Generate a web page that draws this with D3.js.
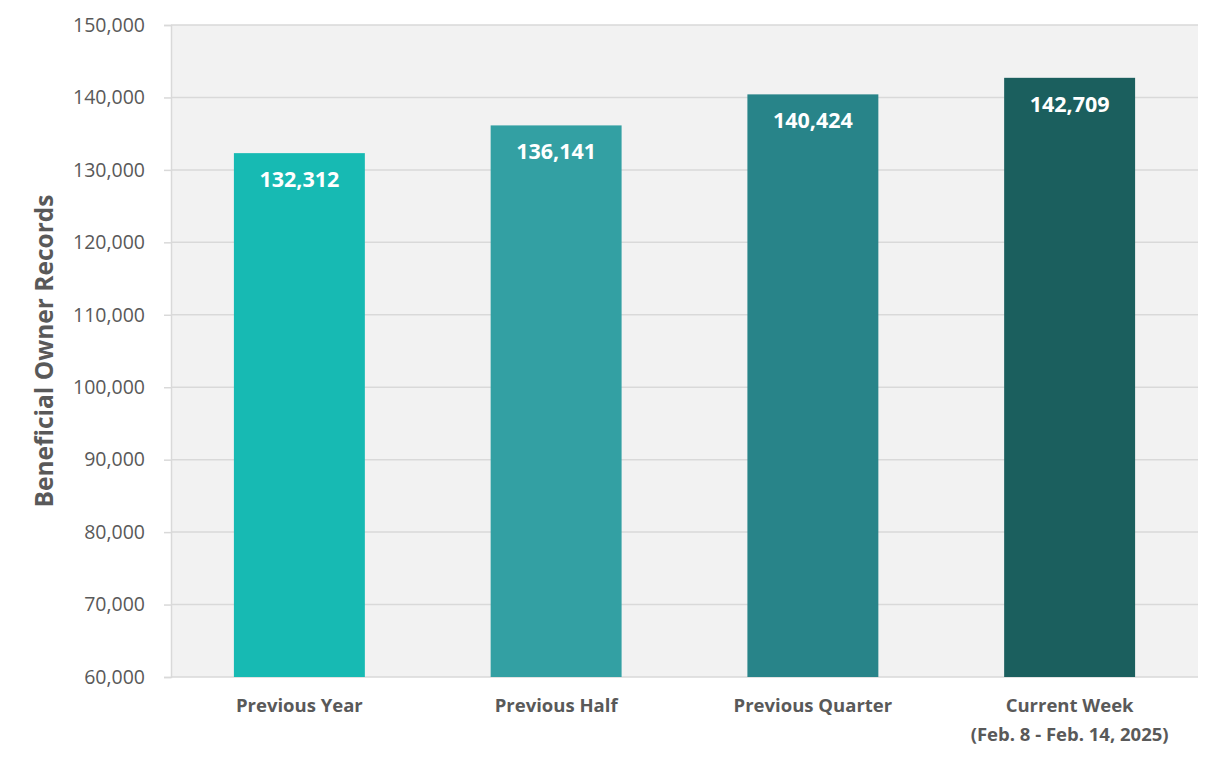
<!DOCTYPE html>
<html>
<head>
<meta charset="utf-8">
<script src="https://cdn.jsdelivr.net/npm/d3@7"></script>
<style>
  body { margin: 0; background: #fff; }
  text { font-family: "Open Sans", "Noto Sans", sans-serif; }
</style>
</head>
<body>
<svg id="chart" width="1222" height="762"></svg>
<script>
var categories = ["Previous Year", "Previous Half", "Previous Quarter", "Current Week|(Feb. 8 - Feb. 14, 2025)"]
var values = [132312, 136141, 140424, 142709]
var barColors = ["#17bab3", "#33a0a3", "#288489", "#1b5f5e"]
var yTicks = [60000, 70000, 80000, 90000, 100000, 110000, 120000, 130000, 140000, 150000]

var margin = {left: 171, right: 24, top: 25, bottom: 85}
var width = 1222, height = 762
var svg = d3.select("#chart")

var x = d3.scaleBand()
  .domain(d3.range(categories.length))
  .range([margin.left, width - margin.right])
  .paddingInner(0.49)
  .paddingOuter(0.245)

var y = d3.scaleLinear()
  .domain([60000, 150000])
  .range([height - margin.bottom, margin.top])

// plot background
svg.append("rect")
  .attr("x", margin.left)
  .attr("y", margin.top)
  .attr("width", width - margin.right - margin.left)
  .attr("height", y(60000) - margin.top)
  .attr("fill", "#f2f2f2")

var yAxis = svg.append("g")
  .attr("transform", "translate(" + margin.left + ",0)")
  .call(d3.axisLeft(y).tickValues(yTicks).tickFormat(d3.format(",")).tickSize(7).tickPadding(19))

yAxis.select(".domain").attr("stroke", "#d9d9d9").attr("stroke-width", 1.5)
yAxis.selectAll(".tick line").attr("stroke", "#d9d9d9").attr("stroke-width", 1.5)
yAxis.selectAll(".tick text")
  .attr("fill", "#595959")
  .style("font-size", "19.5px")

// gridlines
svg.append("g")
  .selectAll("line")
  .data(yTicks)
  .enter()
  .append("line")
  .attr("x1", margin.left)
  .attr("x2", width - margin.right)
  .attr("y1", function(d){ return y(d) })
  .attr("y2", function(d){ return y(d) })
  .attr("stroke", "#d9d9d9")
  .attr("stroke-width", 1.5)

svg.append("g")
  .selectAll("rect")
  .data(values)
  .enter()
  .append("rect")
  .attr("x", function(d, i){ return x(i) })
  .attr("y", function(d){ return y(d) })
  .attr("width", x.bandwidth())
  .attr("height", function(d){ return y(60000) - y(d) })
  .attr("fill", function(d, i){ return barColors[i] })

svg.append("g")
  .selectAll("text")
  .data(values)
  .enter()
  .append("text")
  .attr("x", function(d, i){ return x(i) + x.bandwidth() / 2 })
  .attr("y", function(d){ return y(d) + 34 })
  .attr("text-anchor", "middle")
  .attr("fill", "#fff")
  .style("font-size", "21.5px")
  .style("font-weight", "bold")
  .text(function(d){ return d3.format(",")(d) })

var catLabels = svg.append("g")
  .selectAll("text")
  .data(categories)
  .enter()
  .append("text")
  .attr("x", function(d, i){ return x(i) + x.bandwidth() / 2 })
  .attr("y", height - margin.bottom + 35)
  .attr("text-anchor", "middle")
  .attr("fill", "#595959")
  .style("font-size", "18.5px")
  .style("font-weight", "bold")

catLabels.each(function(d){
  var lines = d.split("|")
  var t = d3.select(this)
  lines.forEach(function(l, j){
    t.append("tspan")
      .attr("x", t.attr("x"))
      .attr("dy", j == 0 ? 0 : 29)
      .text(l)
  })
})

svg.append("text")
  .attr("transform", "translate(53," + (y(105000)) + ") rotate(-90)")
  .attr("text-anchor", "middle")
  .attr("fill", "#595959")
  .style("font-size", "24.5px")
  .style("font-weight", "bold")
  .text("Beneficial Owner Records")
</script>
</body>
</html>
